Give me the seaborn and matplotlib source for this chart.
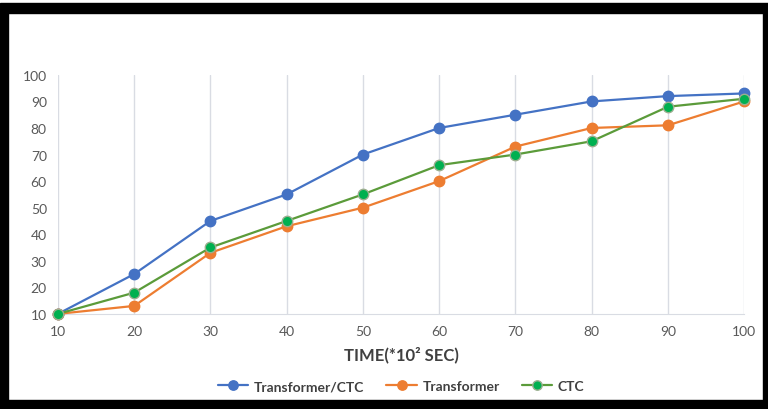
import matplotlib
matplotlib.use("Agg")
import matplotlib.pyplot as plt
import matplotlib.patches as mpatches
import seaborn as sns
import pandas as pd

time = [10, 20, 30, 40, 50, 60, 70, 80, 90, 100]
transformer_ctc = [10, 25, 45, 55, 70, 80, 85, 90, 92, 93]
transformer = [10, 13, 33, 43, 50, 60, 73, 80, 81, 90]
ctc = [10, 18, 35, 45, 55, 66, 70, 75, 88, 91]
y_ticks = [10, 20, 30, 40, 50, 60, 70, 80, 90, 100]

sns.set_style("white")
plt.rcParams['font.family'] = ['Lato', 'DejaVu Sans']

fig = plt.figure(figsize=(7.68, 4.10), dpi=100)
ax = fig.add_axes([0.0755, 0.232, 0.8935, 0.583])

series = [
    ("Transformer/CTC", transformer_ctc, "#4472C4", "#4472C4"),
    ("Transformer", transformer, "#ED7D31", "#ED7D31"),
    ("CTC", ctc, "#5B9B3A", "#00B050"),
]
for name, vals, lc, mc in series:
    df = pd.DataFrame({"time": time, "value": vals})
    sns.lineplot(data=df, x="time", y="value", ax=ax, color=lc, linewidth=1.6,
                 marker="o", markersize=7.5, markerfacecolor=mc,
                 markeredgecolor=lc if mc == lc else "#9AAE8E", markeredgewidth=1,
                 label=name, clip_on=False, zorder=3)

ax.set_xlim(10, 100)
ax.set_ylim(10, 100)
ax.set_xticks(time)
ax.set_yticks(y_ticks)
ax.tick_params(axis="both", length=0, labelsize=10, labelcolor="#595959", pad=8)
ax.xaxis.grid(True, color="#D9DCE3", linewidth=1)
ax.yaxis.grid(False)
for s in ["top", "right", "left"]:
    ax.spines[s].set_visible(False)
ax.spines["bottom"].set_color("#D9DCE3")
ax.set_ylabel("")
ax.set_xlabel("TIME(*10² SEC)", fontsize=12, fontweight="bold", color="#404040", labelpad=6)

leg = ax.legend(loc="upper center", bbox_to_anchor=(0.5, -0.225), ncol=3, frameon=False,
                fontsize=10, handlelength=2.2, handletextpad=0.4, columnspacing=1.6,
                markerscale=0.9)
for t in leg.get_texts():
    t.set_fontweight("bold")
    t.set_color("#404040")

# black frame around the picture
fig.patches.append(mpatches.Rectangle((0, 396/410), 1, 10/410, transform=fig.transFigure,
                                      color="black", zorder=0))
fig.patches.append(mpatches.Rectangle((0, 0), 8/768, 405/410, transform=fig.transFigure,
                                      color="black", zorder=0))
fig.patches.append(mpatches.Rectangle((763/768, 0), 5/768, 405/410, transform=fig.transFigure,
                                      color="black", zorder=0))
fig.patches.append(mpatches.Rectangle((0, 0), 1, 9/410, transform=fig.transFigure,
                                      color="black", zorder=0))

fig.savefig("out.png", dpi=100)
